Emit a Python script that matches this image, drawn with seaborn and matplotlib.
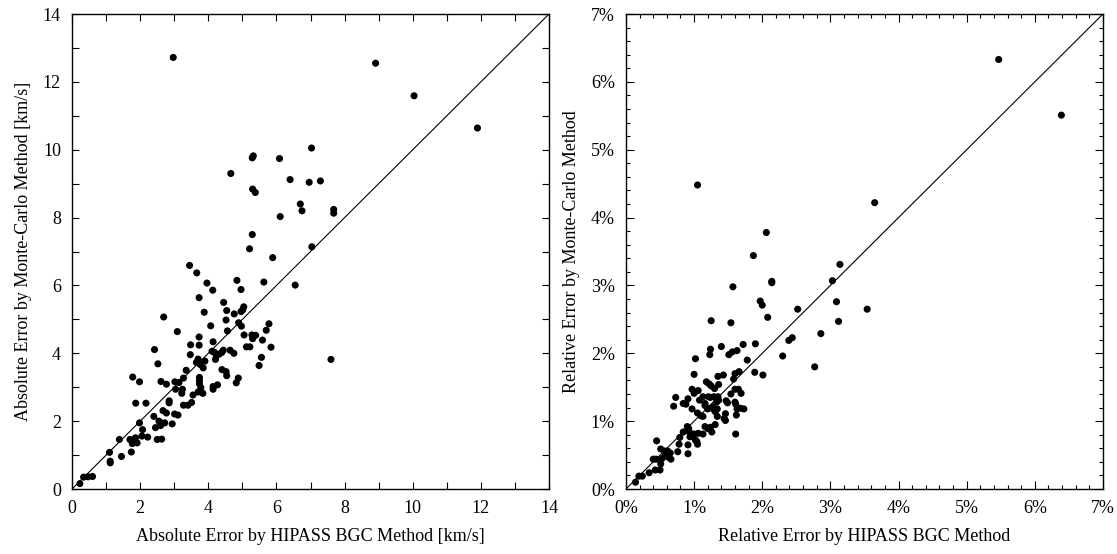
import numpy as np
import pandas as pd
import matplotlib
matplotlib.use("Agg")
import matplotlib.pyplot as plt
from matplotlib.ticker import MultipleLocator, FuncFormatter
import seaborn as sns

# ---- Left panel: absolute errors [km/s] ----
abs_hipass = [2.97, 8.91, 10.04, 11.9, 7.03, 5.32, 5.29, 6.09, 4.66, 6.40, 6.96, 7.29, 5.30, 5.38,
              6.70, 6.75, 7.68, 7.68, 6.11, 5.29, 5.21, 7.04, 5.89, 3.45, 3.66, 3.96, 4.84, 5.63,
              6.55, 4.13, 4.96, 3.73, 4.45, 5.04, 5.01, 4.96, 4.54, 3.88, 4.76, 2.69, 4.52, 4.89,
              4.97, 5.78, 4.07, 5.70, 4.56, 3.09, 5.05, 5.28, 5.39, 5.30, 3.73, 5.59, 4.14, 3.48,
              3.73, 5.12, 5.22, 5.84, 2.42, 4.11, 4.18, 4.44, 4.39, 4.31, 4.23, 4.64, 4.75, 3.47,
              4.21, 7.60, 5.56, 3.70, 3.65, 3.76, 3.85, 3.90, 2.52, 5.49, 3.35, 4.40, 4.52, 4.54,
              1.78, 3.27, 3.14, 3.02, 3.74, 3.74, 3.74, 1.98, 2.61, 2.77, 4.88, 4.82, 4.14, 4.27,
              4.14, 3.78, 3.84, 3.70, 3.04, 3.24, 3.22, 3.55, 1.87, 2.17, 2.85, 2.85, 3.51, 3.40,
              3.27, 2.67, 2.77, 3.01, 3.11, 2.40, 1.98, 2.55, 2.63, 2.60, 2.72, 2.94, 2.45, 2.07,
              1.39, 1.70, 1.86, 1.77, 1.91, 2.05, 2.22, 2.50, 2.63, 1.74, 1.10, 1.45, 1.12, 1.12,
              0.34, 0.47, 0.60, 0.23]
abs_mc = [12.72, 12.55, 11.59, 10.64, 10.05, 9.82, 9.76, 9.74, 9.30, 9.12, 9.04, 9.08, 8.84, 8.74,
          8.40, 8.20, 8.24, 8.13, 8.03, 7.50, 7.08, 7.14, 6.82, 6.59, 6.37, 6.07, 6.15, 6.10,
          6.01, 5.86, 5.88, 5.64, 5.50, 5.37, 5.28, 5.23, 5.26, 5.21, 5.16, 5.07, 4.98, 4.90,
          4.80, 4.87, 4.81, 4.68, 4.66, 4.64, 4.54, 4.54, 4.53, 4.43, 4.48, 4.39, 4.34, 4.25,
          4.24, 4.19, 4.19, 4.18, 4.11, 4.06, 4.03, 4.09, 4.02, 3.97, 3.94, 4.09, 4.00, 3.96,
          3.82, 3.82, 3.88, 3.83, 3.73, 3.67, 3.57, 3.77, 3.69, 3.64, 3.50, 3.52, 3.46, 3.34,
          3.30, 3.27, 3.14, 3.16, 3.29, 3.19, 3.10, 3.16, 3.17, 3.09, 3.27, 3.13, 3.02, 3.07,
          2.94, 2.99, 2.82, 2.86, 2.94, 2.94, 2.82, 2.77, 2.53, 2.53, 2.60, 2.54, 2.55, 2.47,
          2.47, 2.31, 2.24, 2.21, 2.18, 2.14, 1.95, 2.00, 1.94, 1.87, 1.95, 1.92, 1.81, 1.75,
          1.46, 1.46, 1.51, 1.34, 1.36, 1.56, 1.53, 1.46, 1.47, 1.09, 1.08, 0.96, 0.82, 0.77,
          0.35, 0.36, 0.37, 0.16]

# ---- Right panel: relative errors [%] ----
rel_hipass = [5.47, 6.39, 1.05, 3.65, 2.06, 1.87, 3.14, 1.57, 2.14, 2.14, 3.03, 1.97, 2.00, 3.09,
              2.52, 3.54, 1.25, 1.54, 2.08, 3.12, 2.86, 2.44, 2.39, 1.90, 1.72, 1.40, 1.24, 1.23,
              1.63, 1.56, 1.51, 2.30, 1.02, 1.78, 2.77, 1.89, 2.01, 1.00, 1.66, 1.60, 1.58, 1.43,
              1.35, 1.36, 1.18, 1.22, 1.25, 1.30, 0.97, 1.00, 1.06, 0.97, 1.60, 1.65, 1.69, 1.54,
              0.73, 0.70, 0.84, 0.88, 0.91, 1.13, 1.08, 1.16, 1.21, 1.24, 1.29, 1.35, 1.36, 1.33,
              1.47, 1.49, 1.60, 1.61, 1.63, 1.68, 1.73, 1.16, 1.20, 1.27, 1.29, 1.34, 1.31, 1.05,
              1.10, 1.13, 1.46, 1.44, 1.46, 1.62, 1.34, 1.31, 1.16, 1.24, 1.26, 1.20, 1.61, 0.90,
              0.92, 0.93, 0.97, 0.94, 1.00, 1.06, 1.13, 1.02, 1.04, 1.05, 0.84, 0.79, 0.78, 0.91,
              0.91, 0.45, 0.51, 0.57, 0.61, 0.65, 0.58, 0.62, 0.66, 0.53, 0.51, 0.76, 0.40, 0.44,
              0.43, 0.50, 0.34, 0.19, 0.24, 0.14]
rel_mc = [6.33, 5.51, 4.48, 4.22, 3.78, 3.44, 3.31, 2.98, 3.06, 3.04, 3.07, 2.77, 2.71, 2.76,
          2.65, 2.65, 2.48, 2.45, 2.53, 2.47, 2.29, 2.23, 2.19, 2.14, 2.13, 2.10, 2.06, 1.98,
          2.04, 2.02, 1.98, 1.96, 1.92, 1.90, 1.80, 1.72, 1.68, 1.69, 1.73, 1.70, 1.62, 1.68,
          1.66, 1.54, 1.58, 1.55, 1.52, 1.48, 1.47, 1.41, 1.45, 1.18, 1.47, 1.47, 1.41, 1.40,
          1.35, 1.22, 1.26, 1.25, 1.33, 1.36, 1.31, 1.26, 1.36, 1.35, 1.36, 1.36, 1.31, 1.28,
          1.30, 1.27, 1.28, 1.25, 1.18, 1.19, 1.18, 1.23, 1.18, 1.21, 1.17, 1.18, 1.14, 1.12,
          1.08, 1.07, 1.11, 1.04, 1.01, 1.09, 1.07, 0.95, 0.92, 0.91, 0.84, 0.89, 0.81, 0.92,
          0.89, 0.84, 0.79, 0.77, 0.81, 0.82, 0.81, 0.72, 0.70, 0.66, 0.84, 0.76, 0.66, 0.65,
          0.52, 0.71, 0.59, 0.56, 0.56, 0.53, 0.51, 0.47, 0.44, 0.45, 0.37, 0.55, 0.44, 0.44,
          0.28, 0.28, 0.24, 0.19, 0.19, 0.10]

abs_ticks = [0, 2, 4, 6, 8, 10, 12, 14]
rel_ticks = [0, 1, 2, 3, 4, 5, 6, 7]

sns.set_theme(style="ticks")
plt.rcParams["font.family"] = ["Liberation Serif", "DejaVu Serif"]
plt.rcParams["text.color"] = "black"
plt.rcParams["axes.labelcolor"] = "black"
plt.rcParams["xtick.color"] = "black"
plt.rcParams["ytick.color"] = "black"

fig = plt.figure(figsize=(11.17, 5.54), dpi=100)
ax1 = fig.add_axes([0.0645, 0.1173, 0.4270, 0.8574])
ax2 = fig.add_axes([0.5604, 0.1173, 0.4270, 0.8574])

df1 = pd.DataFrame({"x": abs_hipass, "y": abs_mc})
df2 = pd.DataFrame({"x": np.array(rel_hipass) / 100, "y": np.array(rel_mc) / 100})

for ax, df, lim in [(ax1, df1, 14), (ax2, df2, 0.07)]:
    ax.plot([0, lim], [0, lim], color="black", lw=0.8, zorder=1)
    sns.scatterplot(data=df, x="x", y="y", ax=ax, color="black", s=26,
                    edgecolor="none", linewidth=0, zorder=2)
    ax.set_xlim(0, lim)
    ax.set_ylim(0, lim)
    for sp in ax.spines.values():
        sp.set_visible(True)
        sp.set_linewidth(1.0)
        sp.set_color("black")
    ax.tick_params(which="both", direction="in", top=True, right=True,
                   labelsize=13, colors="black", labelcolor="black", width=0.8, pad=8)

ax1.set_xticks(abs_ticks)
ax1.set_yticks(abs_ticks)
ax1.xaxis.set_minor_locator(MultipleLocator(1))
ax1.yaxis.set_minor_locator(MultipleLocator(1))
ax1.tick_params(which="both", length=5)

pct = FuncFormatter(lambda v, p: f"{round(v * 100):d}%")
ax2.set_xticks([t / 100 for t in rel_ticks])
ax2.set_yticks([t / 100 for t in rel_ticks])
ax2.xaxis.set_major_formatter(pct)
ax2.yaxis.set_major_formatter(pct)
ax2.xaxis.set_minor_locator(MultipleLocator(0.002))
ax2.yaxis.set_minor_locator(MultipleLocator(0.002))
ax2.tick_params(which="major", length=6)
ax2.tick_params(which="minor", length=3)

ax1.set_xlabel("Absolute Error by HIPASS BGC Method [km/s]", fontsize=13, labelpad=8, color="black")
ax1.set_ylabel("Absolute Error by Monte-Carlo Method [km/s]", fontsize=13, labelpad=8, color="black")
ax2.set_xlabel("Relative Error by HIPASS BGC Method", fontsize=13, labelpad=8, color="black")
ax2.set_ylabel("Relative Error by Monte-Carlo Method", fontsize=13, labelpad=8, color="black")

fig.savefig("out.png", dpi=100)
